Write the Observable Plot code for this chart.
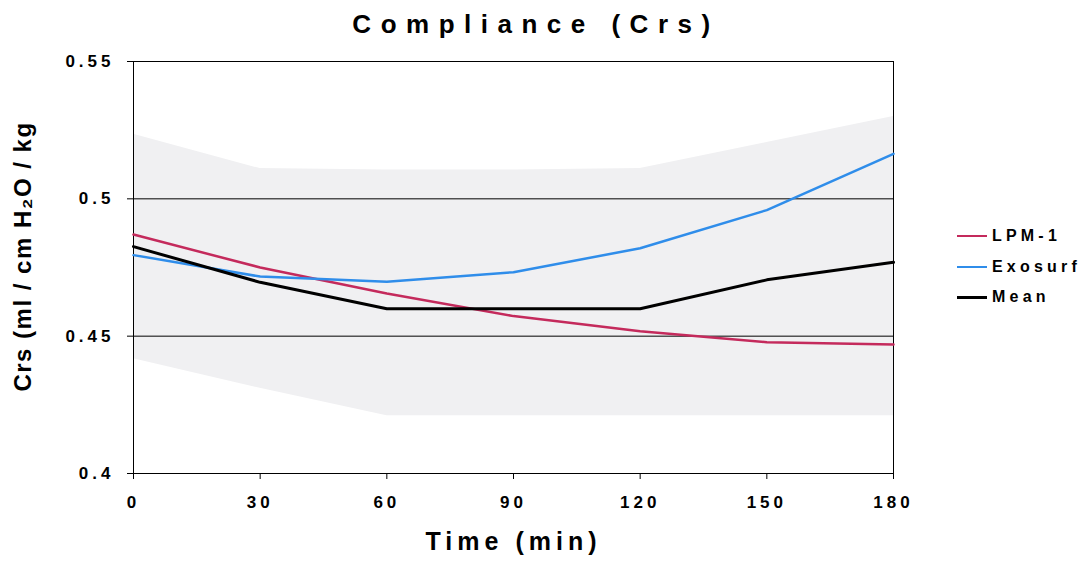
<!DOCTYPE html>
<html>
<head>
<meta charset="utf-8">
<script src="https://cdn.jsdelivr.net/npm/d3@7"></script>
<script src="https://cdn.jsdelivr.net/npm/@observablehq/plot@0.6"></script>
<style>
  html, body { margin: 0; padding: 0; background: white; }
  #wrap { position: relative; width: 1082px; height: 564px; font-family: "Liberation Sans", Arial, sans-serif; overflow: hidden; }
  #title { position: absolute; left: 0; top: 2px; width: 1072px; padding-right: 10px; height: 45px; line-height: 45px;
           text-align: center; font-size: 26px; font-weight: bold; letter-spacing: 9.5px; color: #000; }
  #chart { position: absolute; left: 0; top: 45px; }
  #legend { position: absolute; left: 957px; top: 0; font-size: 16px; font-weight: bold; letter-spacing: 4.2px; color: #000; }
  .li { position: absolute; left: 0; width: 122px; height: 20px; }
  .li .sw { position: absolute; left: 0; width: 30px; top: 9px; }
  .li .lb { position: absolute; left: 35px; top: 0; line-height: 20px; white-space: nowrap; }
</style>
</head>
<body>
<div id="wrap">
  <div id="title">Compliance (Crs)</div>
  <div id="chart"></div>
  <div id="legend"></div>
</div>
<script>
const times = [0, 30, 60, 90, 120, 150, 180];
const lpm1 = [0.487, 0.475, 0.4655, 0.4573, 0.4518, 0.4478, 0.447];
const exosurf = [0.4795, 0.4717, 0.4698, 0.4733, 0.482, 0.4959, 0.5164];
const mean = [0.4826, 0.4696, 0.46, 0.46, 0.46, 0.4705, 0.4769];
const bandUpper = [0.5235, 0.511, 0.5105, 0.5105, 0.511, 0.5205, 0.530];
const bandLower = [0.4418, 0.431, 0.421, 0.421, 0.421, 0.421, 0.421];
const yTicks = [0.4, 0.45, 0.5, 0.55];
const yTickLabels = ["0.4", "0.45", "0.5", "0.55"];
const gridValues = [0.45, 0.5];
const seriesNames = ["LPM-1", "Exosurf", "Mean"];
const seriesColors = ["#C42A5C", "#2F8DEA", "#000000"];
const seriesWidths = [2.5, 2.5, 3];
const xLabel = "Time (min)";
const yLabel = "Crs (ml / cm H\u2082O / kg";

const seriesValues = [lpm1, exosurf, mean];
const band = times.map((t, i) => ({t, lo: bandLower[i], hi: bandUpper[i]}));
const lineRows = seriesNames.map((name, s) => times.map((t, i) => ({t, v: seriesValues[s][i], name})));

const plot = Plot.plot({
  width: 1082,
  height: 519,
  marginLeft: 133,
  marginRight: 189,
  marginTop: 16,
  marginBottom: 91,
  x: {domain: [0, 180]},
  y: {domain: [0.4, 0.55]},
  style: {fontFamily: "'Liberation Sans', Arial, sans-serif", fontSize: "17px", fontWeight: "bold", background: "white", color: "black", overflow: "visible", letterSpacing: "4px"},
  marks: [
    Plot.areaY(band, {x: "t", y1: "lo", y2: "hi", fill: "#f0f0f2"}),
    Plot.ruleY(gridValues, {stroke: "black", strokeWidth: 1}),
    Plot.frame({stroke: "black", strokeWidth: 1}),
    Plot.axisX({ticks: times, tickSize: 6, tickPadding: 16, label: null, tickFormat: d => String(d), stroke: "black"}),
    Plot.axisY({ticks: yTicks, tickSize: 6, tickPadding: 13, label: null, tickFormat: d => yTickLabels[yTicks.indexOf(d)], stroke: "black"}),
    ...lineRows.map((rows, s) => Plot.lineY(rows, {x: "t", y: "v", stroke: seriesColors[s], strokeWidth: seriesWidths[s], strokeLinejoin: "miter"})),
    Plot.text([xLabel], {frameAnchor: "bottom", dy: 76, text: d => d, fontSize: 25, fontWeight: "bold", fill: "black"}),
    Plot.text([yLabel], {frameAnchor: "left", textAnchor: "middle", dx: -110, dy: -11, rotate: -90, text: d => d, fontSize: 24, fontWeight: "bold", fill: "black"})
  ]
});
document.getElementById("chart").appendChild(plot);

// letter spacing of the axis titles
d3.select(plot).selectAll("text").each(function() {
  const t = d3.select(this).text();
  if (t === xLabel) d3.select(this).style("letter-spacing", "5px");
  if (t === yLabel) d3.select(this).style("letter-spacing", "1.5px");
});

// legend
const legendTops = [226, 257, 287];
const legend = d3.select("#legend");
seriesNames.forEach((name, s) => {
  const item = legend.append("div").attr("class", "li").style("top", legendTops[s] + "px");
  item.append("div").attr("class", "sw").style("border-top", `${seriesWidths[s]}px solid ${seriesColors[s]}`);
  item.append("div").attr("class", "lb").text(name);
});
</script>
</body>
</html>
